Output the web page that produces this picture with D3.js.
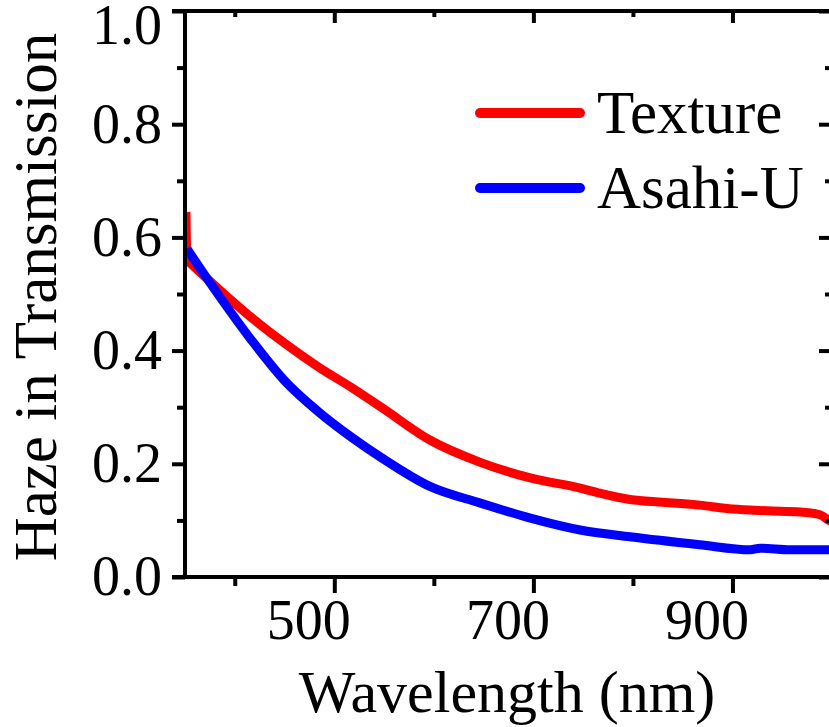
<!DOCTYPE html>
<html>
<head>
<meta charset="utf-8">
<script src="https://cdn.jsdelivr.net/npm/d3@7"></script>
<style>
  body { margin: 0; background: #fff; }
  svg text { font-family: "Liberation Serif", "Times New Roman", serif; fill: #000; }
</style>
</head>
<body>
<svg id="chart" width="829" height="727"></svg>
<script>
// values
var wlTexture = [351, 352, 355, 383, 417, 450, 484, 518, 548, 596, 646, 697, 747, 767, 797, 830, 867, 900, 935, 968, 988, 997, 1000]
var hazeTexture = [0.645, 0.56, 0.555, 0.51, 0.458, 0.413, 0.371, 0.334, 0.299, 0.242, 0.203, 0.175, 0.157, 0.148, 0.137, 0.132, 0.127, 0.12, 0.117, 0.115, 0.11, 0.10, 0.097]
var wlAsahi = [352, 355, 383, 417, 450, 484, 518, 548, 596, 646, 697, 747, 797, 867, 918, 928, 958, 1000]
var hazeAsahi = [0.58, 0.572, 0.5, 0.418, 0.347, 0.292, 0.246, 0.21, 0.16, 0.131, 0.104, 0.083, 0.071, 0.057, 0.048, 0.051, 0.048, 0.048]
var xMajor = [500, 700, 900]
var xMinor = [400, 600, 800, 1000]
var yMajor = [0, 0.2, 0.4, 0.6, 0.8, 1.0]
var yMinor = [0.1, 0.3, 0.5, 0.7, 0.9]
var seriesNames = ["Texture", "Asahi-U"]
var seriesColors = ["#ff0000", "#0000ff"]

var svg = d3.select("#chart")
var x = d3.scaleLinear().domain([350, 1000]).range([185, 832])
var y = d3.scaleLinear().domain([0, 1]).range([577, 11])

svg.append("clipPath").attr("id", "plot")
  .append("rect").attr("x", 187).attr("y", 11).attr("width", 645).attr("height", 566)

function series(wl, haze) {
  var pts = []
  for (var i=0 ; i<wl.length ; i++) pts.push([wl[i], haze[i]])
  return pts
}
var line = d3.line().x(function(d){ return x(d[0]) }).y(function(d){ return y(d[1]) }).curve(d3.curveMonotoneX)

var g = svg.append("g").attr("clip-path", "url(#plot)")
g.append("path").datum(series(wlTexture, hazeTexture))
  .attr("d", line).attr("fill", "none").attr("stroke", seriesColors[0]).attr("stroke-width", 9)
g.append("path").datum(series(wlAsahi, hazeAsahi))
  .attr("d", line).attr("fill", "none").attr("stroke", seriesColors[1]).attr("stroke-width", 9)

// axes: left & bottom outward, top & right inward
function styleAxis(sel) {
  sel.select(".domain").remove()
  sel.selectAll("line").attr("stroke", "#000").attr("stroke-width", 4)
  sel.selectAll("text").attr("font-size", 56)
}
var yAx = svg.append("g").attr("transform", "translate(185,0)")
  .call(d3.axisLeft(y).tickValues(yMajor).tickSize(13).tickPadding(10).tickFormat(d3.format(".1f")))
  .call(styleAxis)
// top label sits a little lower so it is not cut
yAx.selectAll(".tick text").filter(function(d){ return d == 1 }).attr("dy", "0.58em")
svg.append("g").attr("transform", "translate(185,0)")
  .call(d3.axisLeft(y).tickValues(yMinor).tickSize(8).tickFormat(""))
  .call(styleAxis)
svg.append("g").attr("transform", "translate(0,577)")
  .call(d3.axisBottom(x).tickValues(xMajor).tickSize(16).tickPadding(6))
  .call(styleAxis)
  .selectAll(".tick text").attr("dx", -26)
svg.append("g").attr("transform", "translate(0,577)")
  .call(d3.axisBottom(x).tickValues(xMinor).tickSize(9).tickFormat(""))
  .call(styleAxis)
svg.append("g").attr("transform", "translate(0,11)")
  .call(d3.axisBottom(x).tickValues(xMajor).tickSize(12).tickFormat(""))
  .call(styleAxis)
svg.append("g").attr("transform", "translate(0,11)")
  .call(d3.axisBottom(x).tickValues(xMinor).tickSize(6).tickFormat(""))
  .call(styleAxis)
svg.append("g").attr("transform", "translate(832,0)")
  .call(d3.axisLeft(y).tickValues(yMajor).tickSize(13).tickFormat(""))
  .call(styleAxis)
svg.append("g").attr("transform", "translate(832,0)")
  .call(d3.axisLeft(y).tickValues(yMinor).tickSize(7).tickFormat(""))
  .call(styleAxis)

// frame
svg.append("line").attr("x1", 185).attr("x2", 185).attr("y1", 9).attr("y2", 579)
  .attr("stroke", "#000").attr("stroke-width", 4)
svg.append("line").attr("x1", 172).attr("x2", 834).attr("y1", 577).attr("y2", 577)
  .attr("stroke", "#000").attr("stroke-width", 4)
svg.append("line").attr("x1", 172).attr("x2", 834).attr("y1", 11).attr("y2", 11)
  .attr("stroke", "#000").attr("stroke-width", 4)

// titles
svg.append("text").attr("x", 507).attr("y", 712).attr("text-anchor", "middle")
  .attr("font-size", 60).text("Wavelength (nm)")
svg.append("text").attr("transform", "translate(56,297) rotate(-90)").attr("text-anchor", "middle")
  .attr("font-size", 61).text("Haze in Transmission")

// legend
var leg = svg.append("g")
seriesNames.forEach(function(name, i) {
  var ly = 113 + i * 75
  leg.append("line").attr("x1", 480).attr("x2", 580).attr("y1", ly).attr("y2", ly)
    .attr("stroke", seriesColors[i]).attr("stroke-width", 10).attr("stroke-linecap", "round")
  leg.append("text").attr("x", 597).attr("y", ly + 20).attr("font-size", 61).text(name)
})
</script>
</body>
</html>
